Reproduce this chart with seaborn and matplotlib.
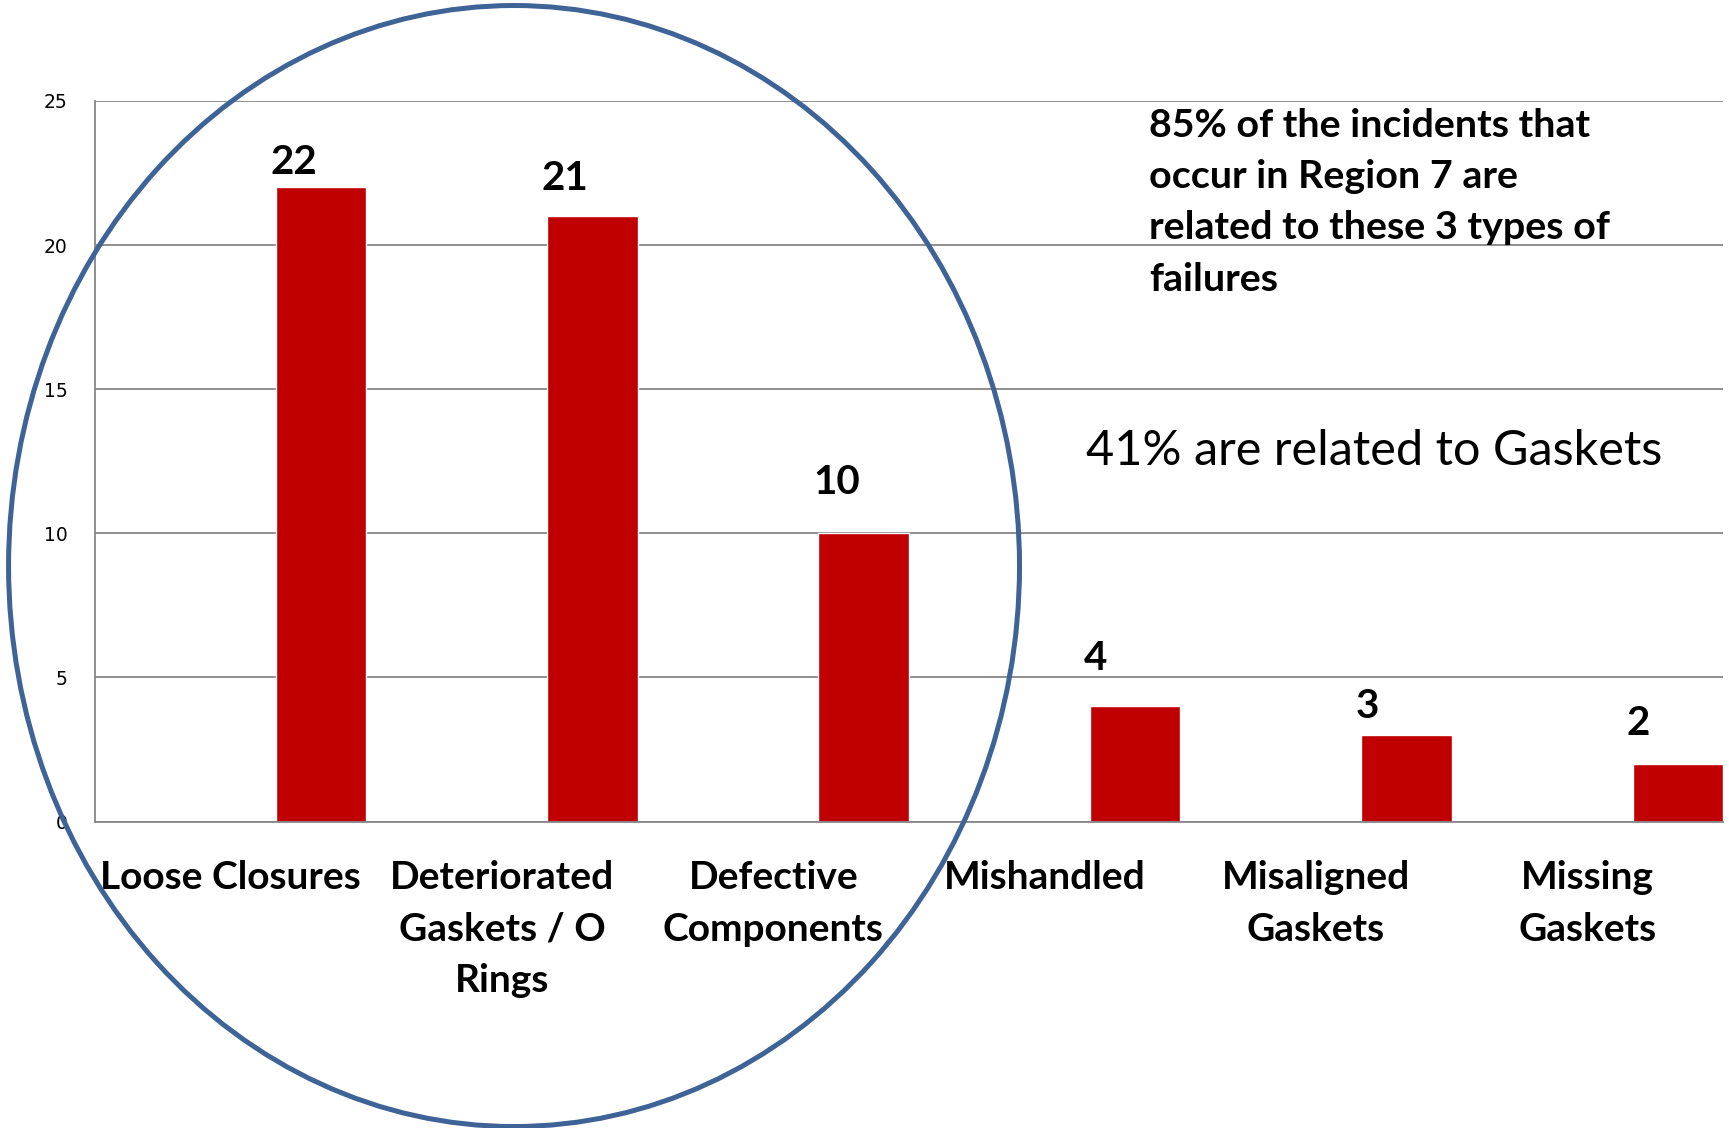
import numpy as np
import pandas as pd
import matplotlib
matplotlib.use('Agg')
import matplotlib.pyplot as plt
from matplotlib.patches import Ellipse
import seaborn as sns

# data
categories = ['Loose Closures', 'Deteriorated\nGaskets / O\nRings', 'Defective\nComponents',
              'Mishandled', 'Misaligned\nGaskets', 'Missing\nGaskets']
incidents = [22, 21, 10, 4, 3, 2]
y_ticks = [0, 5, 10, 15, 20, 25]
note_bold = '85% of the incidents that\noccur in Region 7 are\nrelated to these 3 types of\nfailures'
note_gaskets = '41% are related to Gaskets'

# label lift above each bar (points), labels were hand-placed in the original
label_lift = [10, 19, 28, 26, 12, 21]

sns.set_style('white')
plt.rcParams['font.family'] = ['Lato', 'DejaVu Sans']
plt.rcParams['text.color'] = 'black'
plt.rcParams['xtick.color'] = 'black'
plt.rcParams['ytick.color'] = 'black'

GRAY = '#868686'
RED = '#C00000'

df = pd.DataFrame({'failure': categories, 'incidents': incidents, 'series': 'count'})

fig = plt.figure(figsize=(17.29, 11.28), dpi=100)
ax = fig.add_axes([0.0549, 0.2717, 0.9416, 0.6388])

# excel-style: two empty series before the real one so bars sit at right of each slot
sns.barplot(data=df, x='failure', y='incidents', hue='series',
            hue_order=['s1', 's2', 'count'], order=categories,
            palette={'s1': RED, 's2': RED, 'count': RED},
            width=1, dodge=True, legend=False, errorbar=None,
            saturation=1, ax=ax)

ax.set_xlim(-0.5, len(categories) - 0.5)
ax.set_ylim(0, 25)
ax.set_yticks(y_ticks)
ax.set_xlabel('')
ax.set_ylabel('')

ax.yaxis.grid(True, color=GRAY, lw=1.3)
ax.set_axisbelow(True)
for s in ['top', 'right']:
    ax.spines[s].set_visible(False)
for s in ['left', 'bottom']:
    ax.spines[s].set_color(GRAY)
    ax.spines[s].set_linewidth(1.3)

ax.set_xticks(np.arange(-0.5, len(categories), 1), minor=True)
ax.tick_params(axis='x', which='major', length=0, pad=28, labelsize=28)
ax.tick_params(axis='x', which='minor', length=9.5, width=1.3, color=GRAY)
ax.tick_params(axis='y', length=6.5, width=1.3, color=GRAY, pad=13, labelsize=13.5)
for lbl in ax.get_xticklabels():
    lbl.set_fontweight('bold')
    lbl.set_linespacing(1.56)
for lbl in ax.get_yticklabels():
    lbl.set_fontfamily('DejaVu Sans')

bars = [p for p in ax.patches if p.get_height() > 0]
for bar, lift in zip(bars, label_lift):
    h = bar.get_height()
    ax.annotate(f'{h:g}', xy=(bar.get_x(), h), xytext=(-4, lift),
                textcoords='offset points', ha='left', va='baseline',
                fontsize=29, fontweight='bold')

fig.text(0.6646, 1 - 108 / 1128, note_bold, ha='left', va='top',
         fontsize=28.4, fontweight='bold', linespacing=1.56)
fig.text(0.7947, 1 - 451 / 1128, note_gaskets, ha='center', va='center', fontsize=35)

ring = Ellipse((0.2973, 0.4982), 0.5847, 0.9938, transform=fig.transFigure,
               fill=False, ec='#3E6397', lw=3.6)
fig.add_artist(ring)

fig.savefig('out.png', dpi=100)
